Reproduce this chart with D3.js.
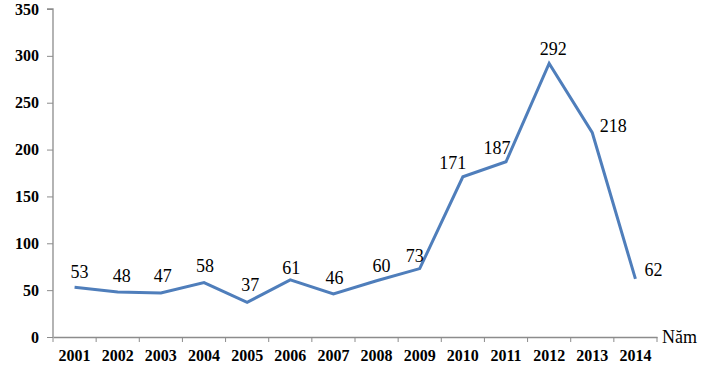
<!DOCTYPE html>
<html><head><meta charset="utf-8">
<script src="https://cdn.jsdelivr.net/npm/d3@7"></script>
<style>body{margin:0;background:#fff}svg{display:block}
text{font-family:"Liberation Serif","Times New Roman",serif}</style>
</head><body>
<svg id="c" width="710" height="368"></svg>
<script>
const years = ["2001","2002","2003","2004","2005","2006","2007","2008","2009","2010","2011","2012","2013","2014"];
const values = [53,48,47,58,37,61,46,60,73,171,187,292,218,62];
const yTicks = [0,50,100,150,200,250,300,350];
const xTitle = "Năm";
// label offsets (dx, dy) relative to each point
const labelDx = [5,4,2,1,3,1,1,5,-5,-10,-9,4,21,18];
const labelDy = [-9,-10,-11,-11,-11,-6,-10,-9,-7,-8,-8,-8,-1,-3];

const svg = d3.select("#c");
const L = 53, R = 657, T = 9, B = 337;
const x = d3.scaleBand().domain(years).range([L, R]);
const y = d3.scaleLinear().domain([0, 350]).range([B, T]);
const axisColor = "#8c8c8c";
const FONT = '"Liberation Serif","Times New Roman",serif';

const yAxis = svg.append("g").attr("transform", `translate(${L},0)`)
  .call(d3.axisLeft(y).tickValues(yTicks).tickSize(6).tickPadding(8));
const xAxis = svg.append("g").attr("transform", `translate(0,${B})`)
  .call(d3.axisBottom(x).tickSize(0).tickPadding(13));
xAxis.selectAll(".bt").data(years.concat(["end"])).enter().append("line")
  .attr("x1", (d,i) => L + i * x.step()).attr("x2", (d,i) => L + i * x.step())
  .attr("y1", 0).attr("y2", 5).attr("stroke", axisColor);
[yAxis, xAxis].forEach(g => {
  g.attr("font-family", null).attr("font-size", null);
  g.select(".domain").attr("stroke", axisColor).attr("stroke-width", 1.3);
  g.selectAll(".tick line").attr("stroke", axisColor);
  g.selectAll("text").style("font-family", FONT)
    .attr("font-weight", "bold").style("font-size", "16px").attr("fill", "#000");
});
yAxis.select(".domain").attr("d", `M-6,${T}H0V${B}`);

const line = d3.line().x((d,i) => x(years[i]) + x.bandwidth()/2).y(d => y(d));
svg.append("path").datum(values).attr("d", line)
  .attr("fill", "none").attr("stroke", "#4F7EBB").attr("stroke-width", 3)
  .attr("stroke-linejoin", "miter").attr("stroke-miterlimit", 10);

svg.selectAll(".lbl").data(values).enter().append("text")
  .attr("x", (d,i) => x(years[i]) + x.bandwidth()/2 + labelDx[i])
  .attr("y", (d,i) => y(d) + labelDy[i])
  .attr("text-anchor", "middle")
  .style("font-family", FONT)
  .style("font-size", "18px").attr("fill", "#000")
  .text(d => d);

svg.append("text").attr("x", R + 5).attr("y", B + 6)
  .style("font-family", FONT)
  .style("font-size", "18px").attr("fill", "#000").text(xTitle);
</script>
</body></html>
